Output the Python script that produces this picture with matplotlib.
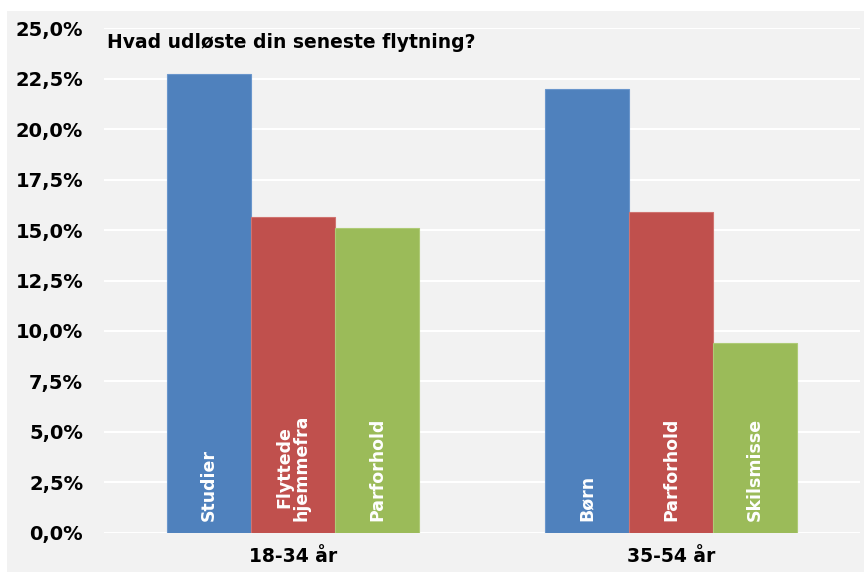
import numpy as np
import matplotlib.pyplot as plt
from matplotlib.patches import Rectangle
from matplotlib.ticker import FuncFormatter

groups = ["18-34 år", "35-54 år"]
first_vals = [22.75, 21.97]
second_vals = [15.63, 15.91]
third_vals = [15.10, 9.39]
first_names = ["Studier", "Børn"]
second_names = ["Flyttede\nhjemmefra", "Parforhold"]
third_names = ["Parforhold", "Skilsmisse"]
yticks = np.arange(0, 25.01, 2.5)

colors = ["#4F81BD", "#C0504D", "#9BBB59"]
edges = ["#6A96CC", "#D07370", "#AECB76"]

fig = plt.figure(figsize=(8.64, 5.72), dpi=100, facecolor="white")
# gray chart area like excel
fig.patches.append(Rectangle((7 / 864, 0), 1, 1 - 11 / 572, transform=fig.transFigure,
                             facecolor="#F2F2F2", edgecolor="none", zorder=-5))
ax = fig.add_axes([104 / 864, 39.3 / 572, 756 / 864, 504.4 / 572])
ax.set_facecolor("#F2F2F2")

x = np.arange(len(groups))
w = 0.2222
series = [(first_vals, first_names), (second_vals, second_names), (third_vals, third_names)]
for i, (vals, names) in enumerate(series):
    pos = x + (i - 1) * w
    ax.bar(pos, vals, width=w, color=colors[i], edgecolor=edges[i], linewidth=0.8, zorder=3)
    for p, n in zip(pos, names):
        ax.text(p, 0.6, n, rotation=90, ha="center", va="bottom", color="white",
                fontsize=12.5, fontweight="bold", linespacing=0.95, zorder=4)

ax.set_xlim(-0.5, 1.5)
ax.set_ylim(0, 25)
ax.set_yticks(yticks)
ax.yaxis.set_major_formatter(FuncFormatter(lambda v, p: ("%.1f%%" % v).replace(".", ",")))
ax.set_xticks(x)
ax.set_xticklabels(groups)
ax.grid(axis="y", color="white", linewidth=1.5, zorder=1)
for s in ax.spines.values():
    s.set_visible(False)
ax.tick_params(length=0)
ax.tick_params(axis="y", pad=15, labelsize=14)
ax.tick_params(axis="x", pad=10, labelsize=13.5)
for lab in ax.get_xticklabels() + ax.get_yticklabels():
    lab.set_fontweight("bold")

fig.text(107 / 864, 1 - 42 / 572, "Hvad udløste din seneste flytning?", fontsize=13.5,
         fontweight="bold", va="center", ha="left")

plt.savefig("out.png", dpi=100, facecolor=fig.get_facecolor())
